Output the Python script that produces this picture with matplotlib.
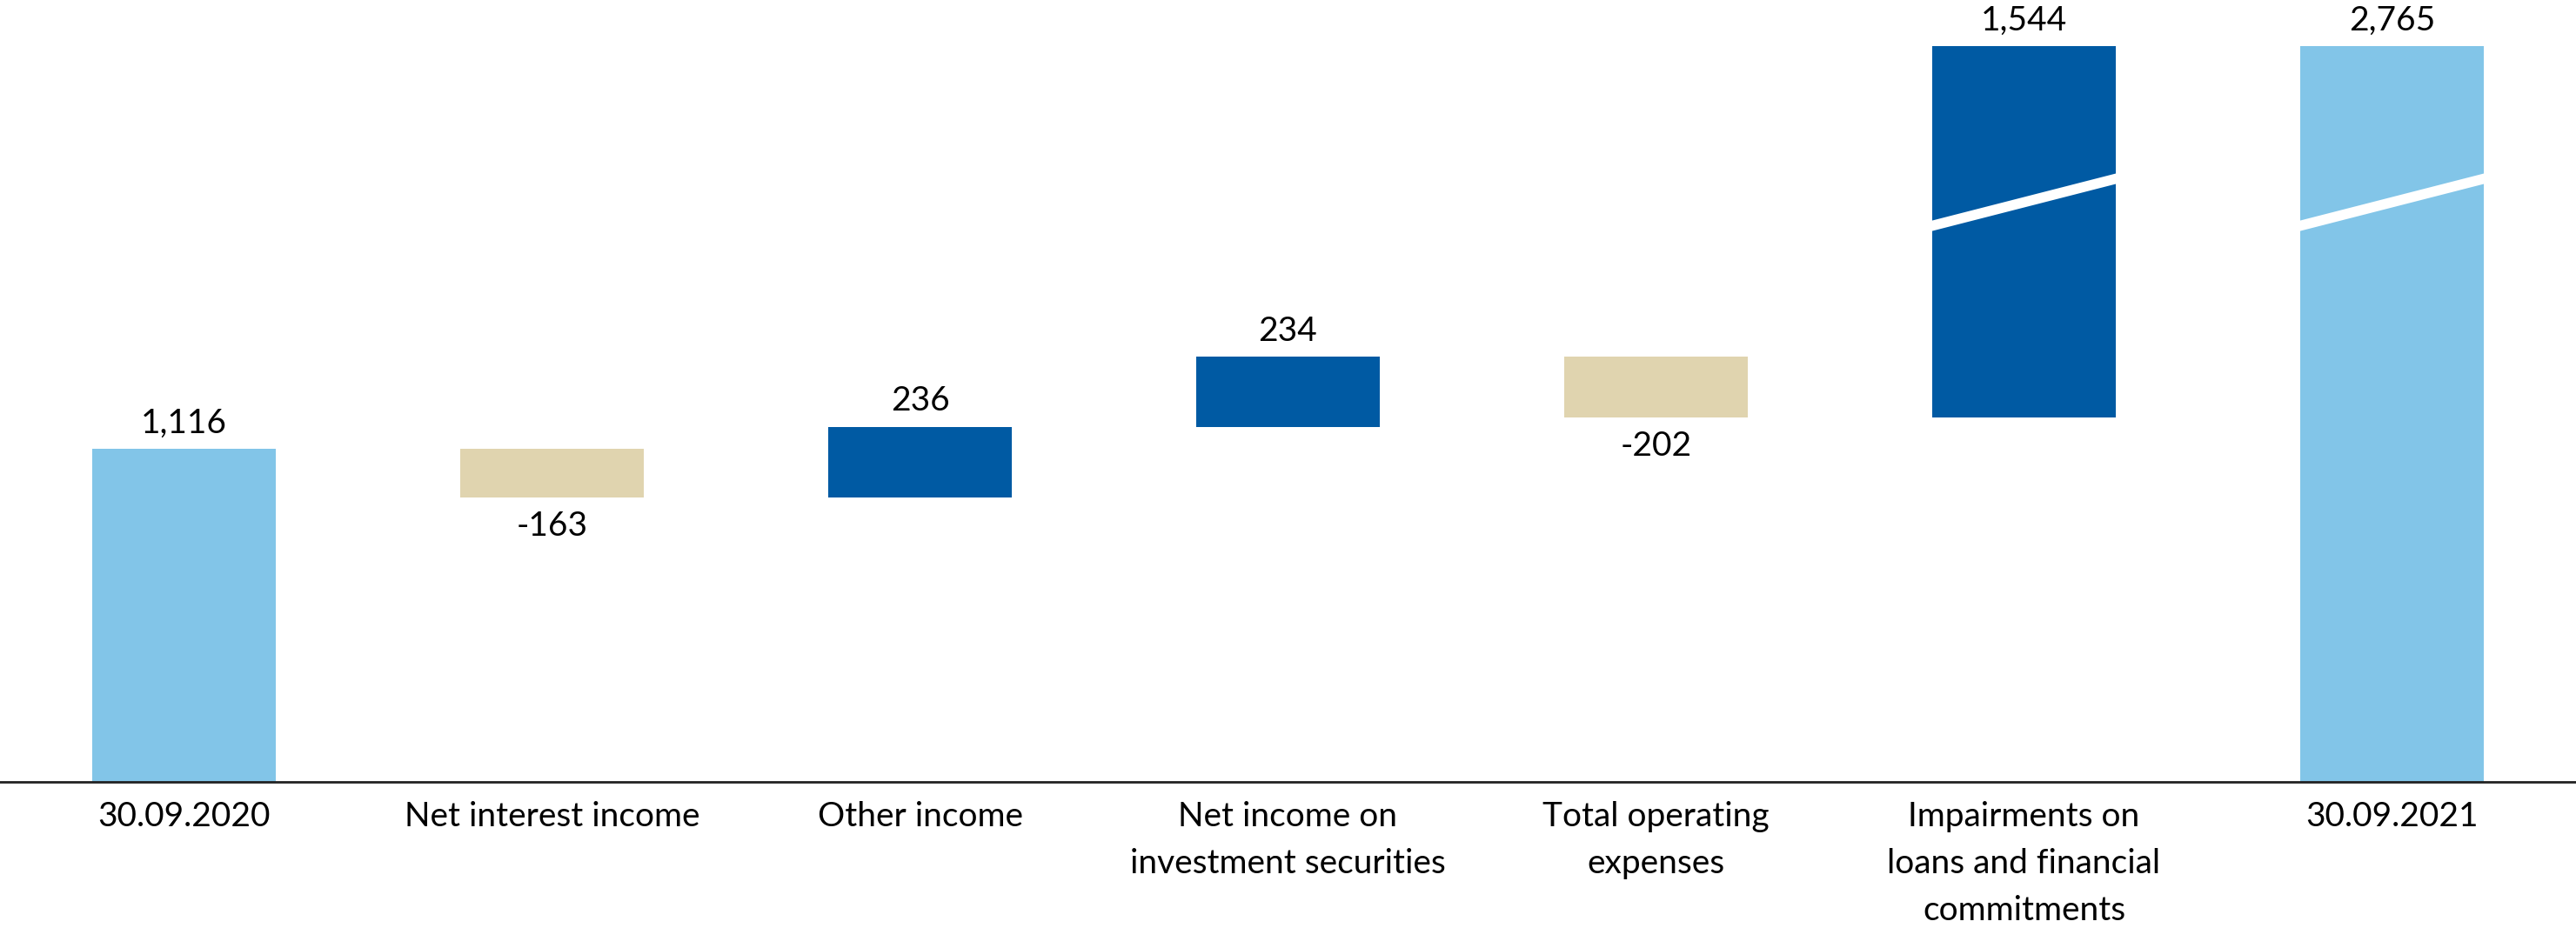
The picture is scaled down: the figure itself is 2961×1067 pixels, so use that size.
import numpy as np
import matplotlib
matplotlib.use("Agg")
import matplotlib.pyplot as plt
from matplotlib.patches import Polygon

# data
categories = ["30.09.2020", "Net interest income", "Other income",
              "Net income on\ninvestment securities", "Total operating\nexpenses",
              "Impairments on\nloans and financial\ncommitments", "30.09.2021"]
values = [1116, -163, 236, 234, -202, 1544, 2765]
labels = ["1,116", "-163", "236", "234", "-202", "1,544", "2,765"]
kinds = ["total", "delta", "delta", "delta", "delta", "delta", "total"]

c_total = "#82C5E8"
c_up = "#005AA3"
c_down = "#E0D4AF"

# broken y axis: linear up to BRK, compressed above
BRK = 1940.0
K = 0.634


def fwd(y):
    y = np.asarray(y, dtype=float)
    return np.where(y <= BRK, y, BRK + (y - BRK) * K)


def inv(y):
    y = np.asarray(y, dtype=float)
    return np.where(y <= BRK, y, BRK + (y - BRK) / K)


plt.rcParams['font.family'] = ['Lato', 'DejaVu Sans']

fig = plt.figure(figsize=(29.61, 10.67), dpi=100)
ax = fig.add_axes([0, 0.1575, 1, 0.8425])
ax.set_yscale('function', functions=(fwd, inv))

x = np.arange(len(categories))
bottoms, heights, colors = [], [], []
running = 0
for v, k in zip(values, kinds):
    if k == "total":
        bottoms.append(0)
        heights.append(v)
        colors.append(c_total)
        running = v
    else:
        bottoms.append(running if v >= 0 else running + v)
        heights.append(abs(v))
        colors.append(c_up if v >= 0 else c_down)
        running += v

bw = 0.5
ax.bar(x, heights, bottom=bottoms, width=bw, color=colors, zorder=2)

fs = 28
for xi, b, h, v, lab in zip(x, bottoms, heights, values, labels):
    if v >= 0:
        ax.annotate(lab, (xi, b + h), xytext=(0, 8), textcoords='offset points',
                    ha='center', va='bottom', fontsize=fs)
    else:
        ax.annotate(lab, (xi, b), xytext=(0, -11), textcoords='offset points',
                    ha='center', va='top', fontsize=fs)

# break marks on bars that cross the break
mid = BRK
rise, thick = 82, 17.5
for xi, b, h in zip(x, bottoms, heights):
    if b < BRK < b + h:
        x0, x1 = xi - bw / 2 - 0.01, xi + bw / 2 + 0.01
        pts = [(x0, mid - rise - thick), (x1, mid + rise - thick),
               (x1, mid + rise + thick), (x0, mid - rise + thick)]
        pts = [(px, float(inv(py))) for px, py in pts]
        ax.add_patch(Polygon(pts, closed=True, facecolor='white',
                             edgecolor='none', zorder=3))

ax.set_xlim(-0.5, len(categories) - 0.5)
ax.set_ylim(0, float(inv(2617)))
ax.set_xticks(x)
ax.set_xticklabels(categories, fontsize=fs, linespacing=1.62)
ax.tick_params(axis='x', length=0, pad=16)
ax.set_yticks([])
ax.yaxis.set_minor_locator(matplotlib.ticker.NullLocator())
for s in ['top', 'left', 'right']:
    ax.spines[s].set_visible(False)
ax.spines['bottom'].set_linewidth(2)
ax.spines['bottom'].set_color('#222222')

fig.savefig('out.png', dpi=100)
